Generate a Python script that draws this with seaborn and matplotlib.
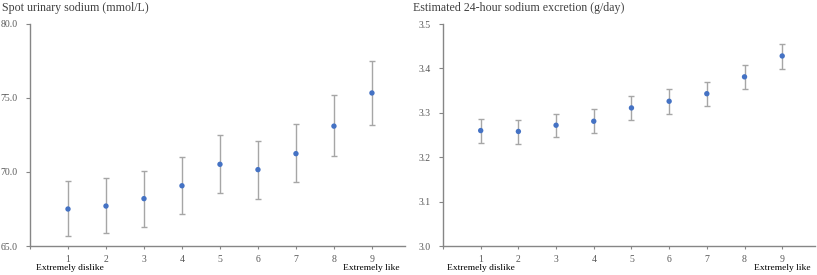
import matplotlib
matplotlib.use("Agg")
import matplotlib.pyplot as plt
import seaborn as sns
import numpy as np
import pandas as pd

# liking score 1-9
score = [1, 2, 3, 4, 5, 6, 7, 8, 9]

# spot urinary sodium (mmol/L): mean and 95% CI
spot_mean = [67.5, 67.7, 68.2, 69.07, 70.52, 70.16, 71.24, 73.1, 75.34]
spot_low = [65.68, 65.86, 66.3, 67.16, 68.6, 68.2, 69.3, 71.08, 73.16]
spot_high = [69.4, 69.6, 70.1, 71.0, 72.48, 72.1, 73.22, 75.18, 77.5]

# estimated 24-hour sodium excretion (g/day)
est_mean = [3.26, 3.258, 3.272, 3.281, 3.311, 3.326, 3.343, 3.381, 3.428]
est_low = [3.232, 3.230, 3.246, 3.254, 3.283, 3.298, 3.316, 3.353, 3.398]
est_high = [3.286, 3.284, 3.298, 3.308, 3.337, 3.353, 3.370, 3.408, 3.455]

sns.set_theme(style="ticks")
plt.rcParams["font.family"] = ["Liberation Serif", "DejaVu Serif"]

W, H = 817, 275
fig = plt.figure(figsize=(W / 100, H / 100), dpi=100)
ax1 = fig.add_axes([30 / W, 1 - 246 / H, 375 / W, 222 / H])
ax2 = fig.add_axes([443 / W, 1 - 246 / H, 372 / W, 222 / H])

blue = "#4472C4"
grey = "#A6A6A6"
axis_col = "#868686"


def panel(ax, mean, low, high, ylim, yticks, fmt, title, x0, x1):
    df = pd.DataFrame({"score": score, "mean": mean})
    err = [np.array(mean) - np.array(low), np.array(high) - np.array(mean)]
    ax.errorbar(score, mean, yerr=err, fmt="none", ecolor=grey, elinewidth=1,
                capsize=2.2, capthick=1, zorder=1)
    sns.scatterplot(data=df, x="score", y="mean", ax=ax, color=blue, s=15,
                    edgecolor="none", zorder=2)
    ax.set_xlim(0, 9.87)
    ax.set_ylim(*ylim)
    ax.set_xticks(range(0, 10))
    ax.set_xticklabels([""] + [str(s) for s in score])
    ax.set_yticks(yticks)
    ax.set_yticklabels([fmt.format(v) for v in yticks])
    ax.set_xlabel("")
    ax.set_ylabel("")
    for side in ["top", "right"]:
        ax.spines[side].set_visible(False)
    for side in ["left", "bottom"]:
        ax.spines[side].set_color(axis_col)
        ax.spines[side].set_linewidth(1)
    ax.tick_params(axis="both", colors=axis_col, labelcolor="#595959",
                   labelsize=7, length=3, width=0.8, pad=6)
    ax.tick_params(axis="x", length=2.5, pad=4)
    fig.text(x0 / W, 1 - 10.5 / H, title, fontsize=8.6, color="#404040",
             ha="left", va="baseline")
    fig.text((x0 + 34) / W, 1 - 268 / H, "Extremely dislike", fontsize=6.8,
             color="black", ha="left", va="center")
    fig.text(x1 / W, 1 - 268 / H, "Extremely like", fontsize=6.8,
             color="black", ha="right", va="center")


panel(ax1, spot_mean, spot_low, spot_high, (65, 80), [65, 70, 75, 80],
      "{:.1f}", "Spot urinary sodium (mmol/L)", 2, 400)
panel(ax2, est_mean, est_low, est_high, (3.0, 3.5),
      [3.0, 3.1, 3.2, 3.3, 3.4, 3.5], "{:.1f}",
      "Estimated 24-hour sodium excretion (g/day)", 413, 811)

fig.savefig("out.png", dpi=100)
